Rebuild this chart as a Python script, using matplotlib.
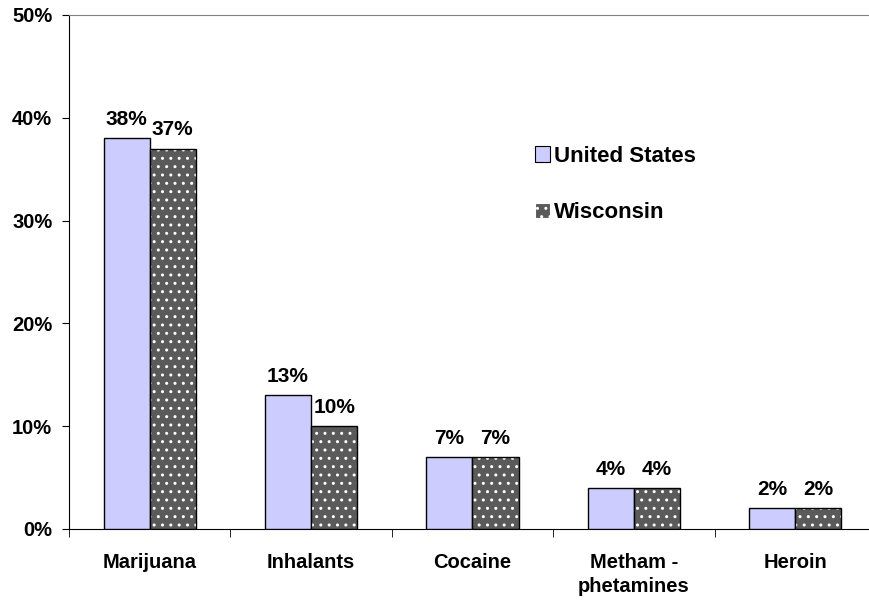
import matplotlib.pyplot as plt
import numpy as np
from matplotlib.patches import Patch

plt.rcParams['font.family'] = ['Liberation Sans', 'DejaVu Sans']
plt.rcParams['font.weight'] = 'bold'

drugs = ['Marijuana', 'Inhalants', 'Cocaine', 'Metham -\nphetamines', 'Heroin']
us_vals = [38, 13, 7, 4, 2]
wi_vals = [37, 10, 7, 4, 2]

us_color = '#ccccff'
wi_color = '#5a5a5a'

fig = plt.figure(figsize=(8.7, 6.01), dpi=100)
ax = fig.add_axes([69 / 870, 72 / 601, 807 / 870, 514 / 601])

x = np.arange(len(drugs))
w = 0.286

us_bars = ax.bar(x - w / 2, us_vals, w, color=us_color, edgecolor='black', linewidth=1, zorder=3)
# dotted fill: white dots on dark grey, then a black outline on top
ax.bar(x + w / 2, wi_vals, w, color=wi_color, edgecolor='white', hatch='..', linewidth=0, zorder=3)
wi_bars = ax.bar(x + w / 2, wi_vals, w, fill=False, edgecolor='black', linewidth=1, zorder=4)

for bars, vals in [(us_bars, us_vals), (wi_bars, wi_vals)]:
    for b, v in zip(bars, vals):
        ax.text(b.get_x() + b.get_width() / 2, v + 0.9, '%d%%' % v,
                ha='center', va='bottom', fontsize=15, fontweight='bold')

ax.set_xlim(-0.5, len(drugs) - 0.5)
ax.set_ylim(0, 50)
ax.set_yticks(range(0, 51, 10))
ax.set_yticklabels(['%d%%' % t for t in range(0, 51, 10)], fontsize=14.5, fontweight='bold')
ax.set_xticks(x)
ax.set_xticklabels(drugs, fontsize=14.5, fontweight='bold', linespacing=1.35)
ax.set_xticks(np.arange(-0.5, len(drugs), 1), minor=True)
ax.tick_params(axis='x', which='major', length=0, pad=17)
ax.tick_params(axis='x', which='minor', length=6, direction='out')
ax.tick_params(axis='y', length=5, direction='out', pad=7)

ax.spines['top'].set_color('#808080')
ax.spines['right'].set_visible(False)

handles = [Patch(facecolor=us_color, edgecolor='black'),
           Patch(facecolor=wi_color, edgecolor='white', hatch='..')]
leg = ax.legend(handles, ['United States', 'Wisconsin'], loc='upper left',
                bbox_to_anchor=(0.5525, 0.785), frameon=False, fontsize=16,
                handlelength=0.7, handleheight=0.7, handletextpad=0.15, labelspacing=1.6)
for h in leg.legend_handles:
    h.set_linewidth(0.8)

fig.savefig('out.png', dpi=100)
